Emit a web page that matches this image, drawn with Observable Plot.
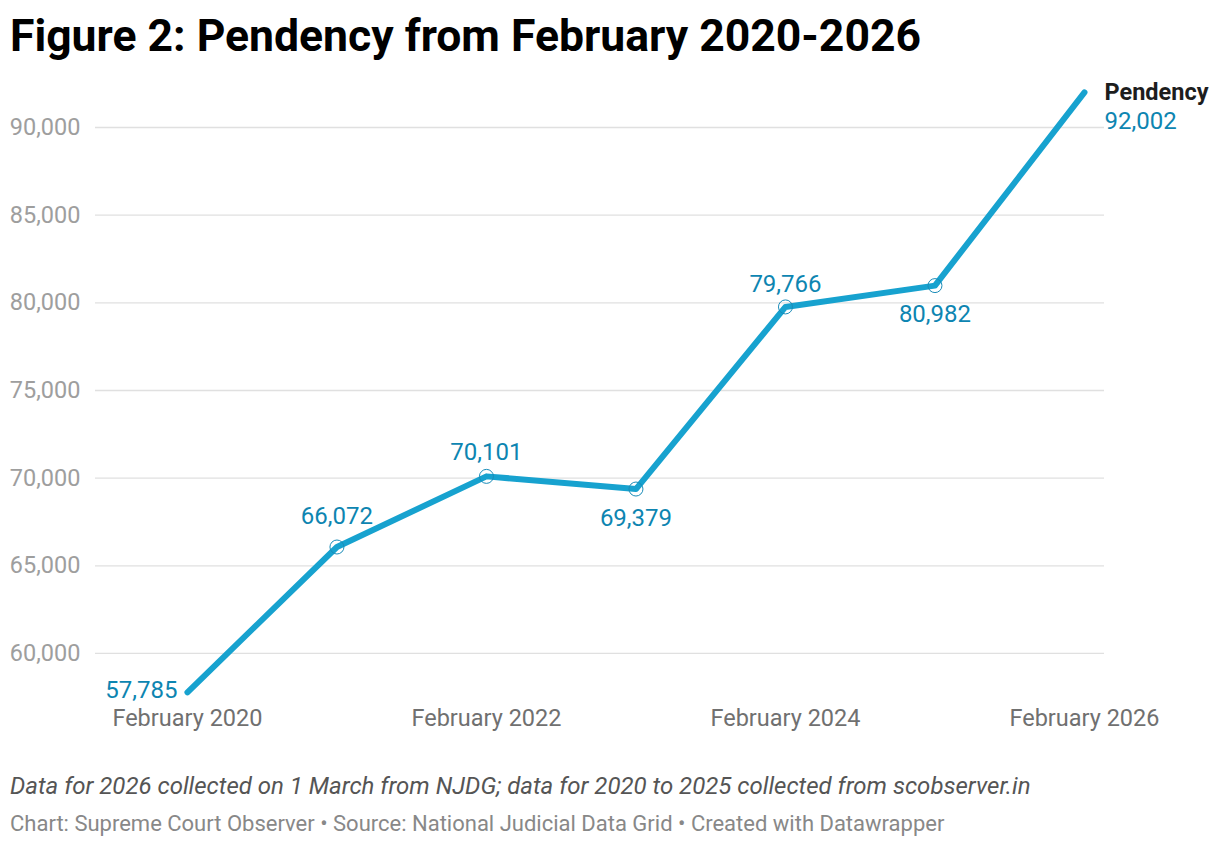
<!DOCTYPE html>
<html>
<head>
<meta charset="utf-8">
<script src="https://cdn.jsdelivr.net/npm/d3@7"></script>
<script src="https://cdn.jsdelivr.net/npm/@observablehq/plot@0.6"></script>
<style>
  html, body { margin: 0; padding: 0; background: #fff; }
  body { width: 1220px; height: 846px; position: relative; font-family: Roboto, "Noto Sans", sans-serif; overflow: hidden; }
  #title { position: absolute; left: 10px; top: 10px; font-size: 44.5px; font-weight: 700; color: #000; white-space: nowrap; }
  #chart { position: absolute; left: 0; top: 60px; }
  #note { position: absolute; left: 10px; top: 772px; font-size: 24px; font-style: italic; color: #555; white-space: nowrap; }
  #credit { position: absolute; left: 10px; top: 811px; font-size: 22px; color: #888; white-space: nowrap; }
</style>
</head>
<body>
<div id="title">Figure 2: Pendency from February 2020-2026</div>
<div id="chart"></div>
<div id="note">Data for 2026 collected on 1 March from NJDG; data for 2020 to 2025 collected from scobserver.in</div>
<div id="credit">Chart: Supreme Court Observer • Source: National Judicial Data Grid • Created with Datawrapper</div>
<script>
const years = [2020, 2021, 2022, 2023, 2024, 2025, 2026];
const pendency = [57785, 66072, 70101, 69379, 79766, 80982, 92002];
const seriesName = "Pendency";
const xTickYears = [2020, 2022, 2024, 2026];
const xTickLabels = ["February 2020", "February 2022", "February 2024", "February 2026"];
const yTicks = [60000, 65000, 70000, 75000, 80000, 85000, 90000];

const data = years.map((y, i) => ({year: y, value: pendency[i], i}));
const fmt = d3.format(",");
const lineColor = "#17a2cf";
const labelColor = "#0d85b1";
const last = data[data.length - 1];

// label placement (style): vertical offsets for the value labels of points 1..5
const labelDy = {1: -31, 2: -24, 3: 29, 4: -23, 5: 29};
const tickLabel = d => xTickLabels[xTickYears.indexOf(d)];

const chart = Plot.plot({
  width: 1220,
  height: 680,
  marginLeft: 95,
  marginRight: 116,
  marginTop: 31.9,
  marginBottom: 48.2,
  style: {fontFamily: "Roboto, 'Noto Sans', sans-serif", background: "transparent"},
  x: {domain: [2019.385, 2026.134], ticks: xTickYears, tickFormat: tickLabel},
  y: {domain: [57785, 92002], ticks: yTicks},
  marks: [
    Plot.ruleY(yTicks, {stroke: "#e0e0e0", strokeWidth: 1.3}),
    Plot.axisY({ticks: yTicks, tickSize: 0, tickPadding: 15, tickFormat: fmt, fontSize: 23.5, fill: "#9e9e9e", label: null}),
    Plot.axisX({ticks: xTickYears, tickSize: 0, tickPadding: 17, tickFormat: tickLabel, fontSize: 23.5, fill: "#707070", label: null}),
    Plot.line(data, {x: "year", y: "value", stroke: lineColor, strokeWidth: 6, strokeLinecap: "round", strokeLinejoin: "round"}),
    Plot.dot(data.filter(d => d.i > 0 && d.i < data.length - 1), {x: "year", y: "value", r: 7, stroke: "#1a8cb8", strokeWidth: 1, fill: "none"}),
    ...Object.entries(labelDy).map(([i, dy]) =>
      Plot.text([data[+i]], {x: "year", y: "value", text: d => fmt(d.value), dy, fill: labelColor, fontSize: 24, lineAnchor: "middle"})
    ),
    Plot.text([data[0]], {x: "year", y: "value", text: d => fmt(d.value), dx: -10, dy: -2, textAnchor: "end", fill: labelColor, fontSize: 24, lineAnchor: "middle"}),
    Plot.text([last], {x: "year", y: "value", text: () => seriesName, dx: 20, dy: 0, textAnchor: "start", fill: "#1d1d1d", fontSize: 23.5, fontWeight: 700, lineAnchor: "middle"}),
    Plot.text([last], {x: "year", y: "value", text: d => fmt(d.value), dx: 20, dy: 29, textAnchor: "start", fill: labelColor, fontSize: 24, lineAnchor: "middle"})
  ]
});
document.getElementById("chart").appendChild(chart);
</script>
</body>
</html>
